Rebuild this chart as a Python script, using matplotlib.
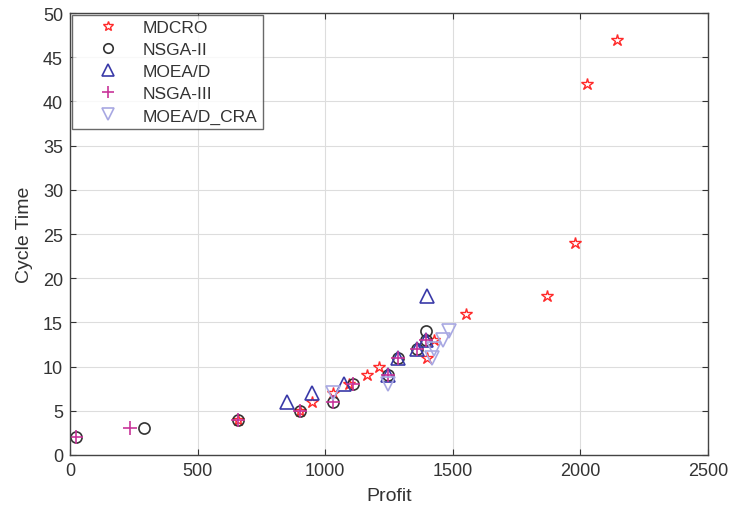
import matplotlib
matplotlib.use("Agg")
import matplotlib.pyplot as plt

plt.rcParams['font.family'] = ['Liberation Sans', 'DejaVu Sans']

mdcro_x = [660, 900, 950, 1030, 1095, 1165, 1210, 1400, 1425, 1550, 1870, 1980, 2025, 2145]
mdcro_y = [4, 5, 6, 7, 8, 9, 10, 11, 13, 16, 18, 24, 42, 47]

nsga2_x = [25, 290, 660, 900, 1030, 1110, 1245, 1285, 1360, 1395, 1395]
nsga2_y = [2, 3, 4, 5, 6, 8, 9, 11, 12, 13, 14]

moead_x = [850, 950, 1075, 1245, 1285, 1360, 1395, 1400]
moead_y = [6, 7, 8, 9, 11, 12, 13, 18]

nsga3_x = [25, 235, 660, 900, 1030, 1110, 1245, 1285, 1360, 1395]
nsga3_y = [2, 3, 4, 5, 6, 8, 9, 11, 12, 13]

cra_x = [1030, 1245, 1420, 1425, 1460, 1485]
cra_y = [7, 8, 11, 12, 13, 14]

xticks = [0, 500, 1000, 1500, 2000, 2500]
yticks = [0, 5, 10, 15, 20, 25, 30, 35, 40, 45, 50]

fig = plt.figure(figsize=(7.31, 5.10), dpi=100)
ax = fig.add_axes([0.0958, 0.1059, 0.8727, 0.8666])

ax.plot(mdcro_x, mdcro_y, linestyle='none', marker='*', ms=9, mfc='none',
        mec='#FF2A2A', mew=1.0, label='MDCRO')
ax.plot(nsga2_x, nsga2_y, linestyle='none', marker='o', ms=8, mfc='none',
        mec='#333333', mew=1.2, label='NSGA-II')
ax.plot(moead_x, moead_y, linestyle='none', marker='^', ms=10, mfc='none',
        mec='#3A3AA8', mew=1.2, label='MOEA/D')
ax.plot(nsga3_x, nsga3_y, linestyle='none', marker='+', ms=10, mfc='none',
        mec='#C8359A', mew=1.2, label='NSGA-III')
ax.plot(cra_x, cra_y, linestyle='none', marker='v', ms=10, mfc='none',
        mec='#A8A8E2', mew=1.2, label='MOEA/D_CRA')

ax.set_xlim(0, 2500)
ax.set_ylim(0, 50)
ax.set_xticks(xticks)
ax.set_yticks(yticks)
ax.grid(True, color='#DDDDDD', linewidth=0.8)
ax.set_axisbelow(True)
ax.tick_params(direction='in', labelsize=13, colors='#333333', length=4,
               top=True, right=True, pad=5)
for s in ax.spines.values():
    s.set_color('#444444')
    s.set_linewidth(1.0)

ax.set_xlabel('Profit', fontsize=14, color='#333333', labelpad=6)
ax.set_ylabel('Cycle Time', fontsize=14, color='#333333', labelpad=7)

leg = ax.legend(loc='upper left', fontsize=12.5, frameon=True, fancybox=False,
                borderaxespad=0.1, handletextpad=0.2, labelspacing=0.4,
                borderpad=0.3, handlelength=3.6, markerscale=0.85)
leg.get_frame().set_edgecolor('#444444')
leg.get_frame().set_linewidth(1.0)
for t in leg.get_texts():
    t.set_color('#333333')

fig.savefig('out.png', dpi=100)
